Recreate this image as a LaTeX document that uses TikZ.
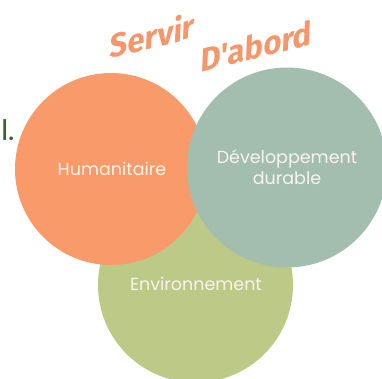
\documentclass[tikz,border=0pt]{standalone}
\usepackage{fontspec}
\setmainfont{Poppins}
\newfontfamily\brushfont[FakeSlant=0.3]{Fira Sans Bold}
\definecolor{orangec}{HTML}{F99A6A}
\definecolor{sagec}{HTML}{A3BEAE}
\definecolor{olivec}{HTML}{BDC987}
\definecolor{titlec}{HTML}{F6966B}
\definecolor{darkgreen}{HTML}{3F5F3C}
\definecolor{labelc}{HTML}{F8F4EC}
\tikzset{
  label/.style={text=labelc, font=\fontsize{17.5}{21}\selectfont, align=center},
  title/.style={text=titlec, font=\brushfont\fontsize{32}{34}\selectfont, rotate=14, inner sep=0pt}
}
\begin{document}
\begin{tikzpicture}[x=1pt,y=-1pt]
\useasboundingbox (0,0) rectangle (382,378);
\begin{scope}
\clip (0,0) rectangle (382,378);
\fill[color=olivec] (195.5,285) circle (97.5);
\fill[color=orangec] (111,169) circle (96);
\fill[color=sagec] (287,167.5) circle (100);
\end{scope}

\node[title] (servir) at (149,36) {Servir};
\node[title] (dabord) at (253,47) {D'abord};
\node[text=darkgreen, font=\fontsize{30}{32}\selectfont, inner sep=0pt] (num) at (8,130) {I.};

\node[label] (huma) at (112,169) {Humanitaire};
\node[label] (devdur) at (287,167) {Développement\\durable};
\node[label] (envi) at (196,284) {Environnement};
\end{tikzpicture}
\end{document}
